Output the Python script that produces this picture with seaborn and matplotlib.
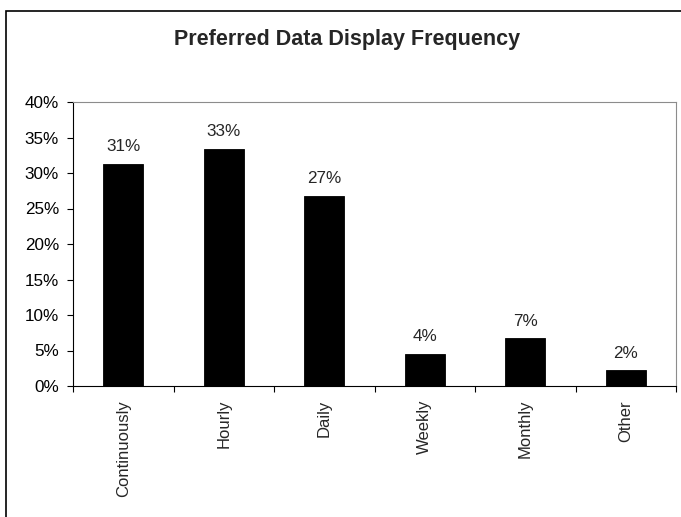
import matplotlib
matplotlib.use("Agg")
import matplotlib.pyplot as plt
from matplotlib.patches import Rectangle
from matplotlib.ticker import FixedLocator, PercentFormatter
import seaborn as sns
import pandas as pd

categories = ["Continuously", "Hourly", "Daily", "Weekly", "Monthly", "Other"]
shares = [0.313, 0.334, 0.268, 0.0449, 0.067, 0.022]
y_ticks = [0.0, 0.05, 0.10, 0.15, 0.20, 0.25, 0.30, 0.35, 0.40]
title = "Preferred Data Display Frequency"

sns.set_style("white")
plt.rcParams["font.family"] = ["Liberation Sans", "DejaVu Sans"]

df = pd.DataFrame({"frequency": categories, "share": shares})

W, H = 681, 517
fig = plt.figure(figsize=(W / 100, H / 100), dpi=100)
ax = fig.add_axes([73 / W, 1 - 386 / H, (676 - 73) / W, (386 - 102) / H])

sns.barplot(data=df, x="frequency", y="share", color="black", width=0.4,
            saturation=1, edgecolor="black", linewidth=0.6, ax=ax)

ax.set_xlim(-0.5, len(categories) - 0.5)
ax.set_ylim(0, 0.40)
ax.set_xlabel("")
ax.set_ylabel("")

# y axis: percentage ticks pointing outward
ax.yaxis.set_major_locator(FixedLocator(y_ticks))
ax.yaxis.set_major_formatter(PercentFormatter(xmax=1, decimals=0))
ax.tick_params(axis="y", which="major", direction="out", length=4, width=0.8,
               pad=6, labelsize=12.3, left=True, colors="black")

# x axis: labels at category centres, tick marks at category boundaries
ax.set_xticks(range(len(categories)))
ax.set_xticklabels(categories, rotation=90, fontsize=12, va="top")
ax.tick_params(axis="x", which="major", length=0, pad=10)
ax.set_xticks([i - 0.5 for i in range(len(categories) + 1)], minor=True)
ax.tick_params(axis="x", which="minor", direction="out", length=4.5,
               width=0.8, bottom=True, color="black")

for side in ("left", "bottom"):
    ax.spines[side].set_color("black")
    ax.spines[side].set_linewidth(0.8)
for side in ("top", "right"):
    ax.spines[side].set_color("#8c8c8c")
    ax.spines[side].set_linewidth(0.8)

# value labels above each bar
ax.bar_label(ax.containers[0], labels=[f"{v:.0%}" for v in shares],
             padding=7, fontsize=12.3)

fig.text(347 / W, 1 - 40 / H, title, ha="center", va="center",
         fontsize=15.5, fontweight="bold")

# chart frame
fig.patches.append(Rectangle((6 / W, -1), 2, 1 + (1 - 10.5 / H),
                             transform=fig.transFigure, fill=False,
                             edgecolor="black", linewidth=1.2))

fig.savefig("out.png", dpi=100, facecolor="white")
